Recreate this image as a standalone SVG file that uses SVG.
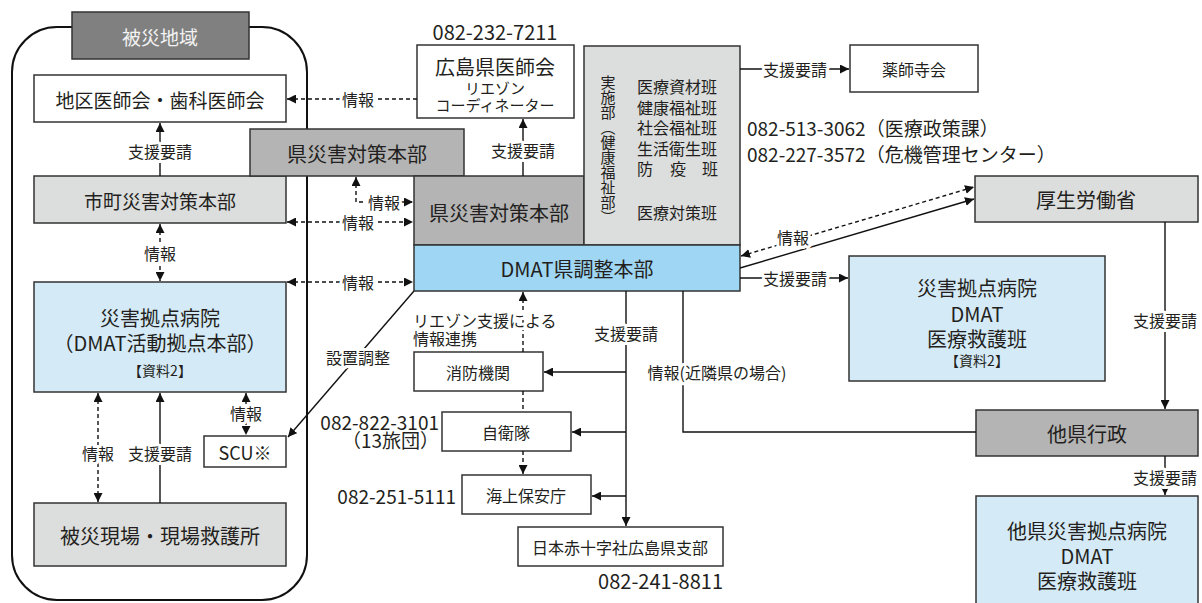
<svg xmlns="http://www.w3.org/2000/svg" width="1202" height="603" viewBox="0 0 1202 603">
<style>
text{font-family:"Noto Sans CJK JP","Noto Sans",sans-serif;fill:#231f20;text-anchor:middle;dominant-baseline:central}
.box{stroke:#333;stroke-width:1.5}
.white{fill:#fff}.lg{fill:#dcdddd}.mg{fill:#b4b4b4}.dg{fill:#808080}.lb{fill:#d5eaf7}.sb{fill:#9fd6f3}
.f20{font-size:20px}.f19{font-size:19px}.f18{font-size:18px}.f16{font-size:16px}.f15{font-size:15px}.f14{font-size:14px}
.ln{stroke:#111;stroke-width:1.4;fill:none}
.ds{stroke:#111;stroke-width:1.4;fill:none;stroke-dasharray:4 3}
.lbl{font-size:16px;stroke:#fff;stroke-width:6;paint-order:stroke;stroke-linejoin:round}
.st{text-anchor:start}.en{text-anchor:end}
.vt{writing-mode:vertical-rl;text-anchor:start;font-size:15px}
</style>
<defs>
<marker id="ah" viewBox="0 0 10 10" refX="10" refY="5" markerWidth="9" markerHeight="9" markerUnits="userSpaceOnUse" orient="auto-start-reverse"><path d="M0,0 L10,5 L0,10 z" fill="#111"/></marker>
</defs>
<rect width="1202" height="603" fill="#fff"/>
<g id="area">
<rect x="12" y="27" width="295" height="573" rx="45" ry="45" fill="none" stroke="#111" stroke-width="2"/>
<rect class="box dg" x="72" y="12" width="177" height="47"/>
<text x="160" y="36" class="f19" style="fill:#f2f2f2">被災地域</text>
</g>
<g id="chiku"><rect class="box white" x="34" y="75" width="252" height="47"/><text x="160" y="99" class="f19">地区医師会・歯科医師会</text></g>
<g id="shicho"><rect class="box lg" x="34" y="176" width="252" height="47"/><text x="160" y="200" class="f19">市町災害対策本部</text></g>
<g id="kyoten-l"><rect class="box lb" x="34" y="282" width="252" height="110"/>
<text x="160" y="317" class="f20">災害拠点病院</text><text x="160" y="342" class="f20">（DMAT活動拠点本部）</text><text x="160" y="370" class="f14">【資料2】</text></g>
<g id="scu"><rect class="box white" x="204" y="436" width="82" height="31"/><text x="245" y="452" class="f18">SCU※</text></g>
<g id="hisai"><rect class="box lg" x="34" y="503" width="252" height="63"/><text x="160" y="535" class="f20">被災現場・現場救護所</text></g>
<g id="ken-upper"><rect class="box mg" x="250" y="129" width="214" height="47"/><text x="357" y="153" class="f20">県災害対策本部</text></g>
<g id="ken-lower"><rect class="box mg" x="414" y="176" width="170" height="69"/><text x="499" y="212" class="f20">県災害対策本部</text></g>
<g id="jisshi"><rect class="box lg" x="584" y="46" width="156" height="199"/>
<text x="608" y="75" class="vt">実施部（健康福祉部）</text>
<text x="637" y="86" class="f16 st">医療資材班</text><text x="637" y="107" class="f16 st">健康福祉班</text><text x="637" y="127" class="f16 st">社会福祉班</text><text x="637" y="148" class="f16 st">生活衛生班</text>
<text x="637" y="168" class="f16 st">防</text><text x="670" y="168" class="f16 st">疫</text><text x="702" y="168" class="f16 st">班</text>
<text x="637" y="212" class="f16 st">医療対策班</text></g>
<g id="dmat"><rect class="box sb" x="414" y="245" width="326" height="46"/><text x="577" y="268" class="f20">DMAT県調整本部</text></g>
<g id="ishikai"><rect class="box white" x="417" y="45" width="157" height="73"/>
<text x="495" y="66" class="f20">広島県医師会</text><text x="495" y="87" class="f15">リエゾン</text><text x="495" y="104" class="f15">コーディネーター</text>
<text x="495" y="31" class="f20">082-232-7211</text></g>
<g id="yakushi"><rect class="box white" x="850" y="45" width="128" height="47"/><text x="914" y="69" class="f16">薬師寺会</text></g>
<g id="phones-ken"><text x="747" y="127" class="f19 st">082-513-3062（医療政策課）</text><text x="747" y="153" class="f19 st">082-227-3572（危機管理センター）</text></g>
<g id="kosei"><rect class="box lg" x="975" y="176" width="223" height="46"/><text x="1086" y="199" class="f20">厚生労働省</text></g>
<g id="kyoten-r"><rect class="box lb" x="849" y="256" width="256" height="125"/>
<text x="977" y="287" class="f20">災害拠点病院</text><text x="977" y="313" class="f20">DMAT</text><text x="977" y="338" class="f20">医療救護班</text><text x="977" y="360" class="f14">【資料2】</text></g>
<g id="taken"><rect class="box mg" x="976" y="410" width="222" height="46"/><text x="1087" y="433" class="f20">他県行政</text></g>
<g id="taken-kyoten"><rect class="box lb" x="976" y="496" width="222" height="120"/>
<text x="1087" y="530" class="f20">他県災害拠点病院</text><text x="1087" y="555" class="f20">DMAT</text><text x="1087" y="580" class="f20">医療救護班</text></g>
<g id="shobo"><rect class="box white" x="414" y="352" width="129" height="39"/><text x="478" y="372" class="f16">消防機関</text></g>
<g id="jieitai"><rect class="box white" x="442" y="412" width="129" height="39"/><text x="506" y="432" class="f16">自衛隊</text>
<text x="439" y="421" class="f19 en">082-822-3101</text><text x="439" y="439" class="f19 en">（13旅団）</text></g>
<g id="kaiho"><rect class="box white" x="462" y="475" width="129" height="39"/><text x="526" y="495" class="f16">海上保安庁</text>
<text x="456" y="495" class="f19 en">082-251-5111</text></g>
<g id="sekijuji"><rect class="box white" x="518" y="527" width="205" height="39"/><text x="620" y="547" class="f16">日本赤十字社広島県支部</text>
<text x="723" y="580" class="f20 en">082-241-8811</text></g>
<g id="connectors">
<line class="ln" x1="160" y1="176" x2="160" y2="123" marker-end="url(#ah)"/>
<line class="ds" x1="160" y1="224" x2="160" y2="281" marker-start="url(#ah)" marker-end="url(#ah)"/>
<line class="ds" x1="98" y1="393" x2="98" y2="502" marker-start="url(#ah)" marker-end="url(#ah)"/>
<line class="ln" x1="160" y1="503" x2="160" y2="393" marker-end="url(#ah)"/>
<line class="ds" x1="246" y1="393" x2="246" y2="435" marker-start="url(#ah)" marker-end="url(#ah)"/>
<line class="ds" x1="417" y1="99" x2="287" y2="99" marker-end="url(#ah)"/>
<line class="ln" x1="523" y1="176" x2="523" y2="119" marker-end="url(#ah)"/>
<path class="ds" d="M356,177 L356,202 L413,202" marker-start="url(#ah)" marker-end="url(#ah)"/>
<line class="ds" x1="287" y1="222" x2="413" y2="222" marker-start="url(#ah)" marker-end="url(#ah)"/>
<line class="ds" x1="287" y1="282" x2="413" y2="282" marker-start="url(#ah)" marker-end="url(#ah)"/>
<line class="ln" x1="414" y1="291" x2="288" y2="437" marker-end="url(#ah)"/>
<line class="ln" x1="740" y1="69" x2="849" y2="69" marker-end="url(#ah)"/>
<line class="ds" x1="741" y1="256" x2="974" y2="187" marker-start="url(#ah)" marker-end="url(#ah)"/>
<line class="ln" x1="740" y1="268" x2="974" y2="199" marker-end="url(#ah)"/>
<line class="ln" x1="740" y1="278" x2="848" y2="278" marker-end="url(#ah)"/>
<line class="ln" x1="1165" y1="222" x2="1165" y2="409" marker-end="url(#ah)"/>
<line class="ln" x1="1165" y1="456" x2="1165" y2="495" marker-end="url(#ah)"/>
<path class="ln" d="M976,432 L683,432 L683,291"/>
<line class="ln" x1="626" y1="291" x2="626" y2="526" marker-end="url(#ah)"/>
<line class="ln" x1="626" y1="372" x2="544" y2="372" marker-end="url(#ah)"/>
<line class="ln" x1="626" y1="432" x2="572" y2="432" marker-end="url(#ah)"/>
<line class="ln" x1="626" y1="496" x2="592" y2="496" marker-end="url(#ah)"/>
<line class="ds" x1="523" y1="352" x2="523" y2="292" marker-end="url(#ah)"/>
<line class="ds" x1="523" y1="391" x2="523" y2="412"/>
<line class="ds" x1="523" y1="451" x2="523" y2="474" marker-end="url(#ah)"/>
<text x="160" y="151" class="lbl">支援要請</text>
<text x="160" y="253" class="lbl">情報</text>
<text x="98" y="453" class="lbl">情報</text>
<text x="160" y="453" class="lbl">支援要請</text>
<text x="246" y="413" class="lbl">情報</text>
<text x="358" y="99" class="lbl">情報</text>
<text x="523" y="150" class="lbl">支援要請</text>
<text x="384" y="202" class="lbl">情報</text>
<text x="358" y="222" class="lbl">情報</text>
<text x="358" y="282" class="lbl">情報</text>
<text x="358" y="357" class="lbl">設置調整</text>
<text x="795" y="69" class="lbl">支援要請</text>
<text x="793" y="237" class="lbl">情報</text>
<text x="795" y="278" class="lbl">支援要請</text>
<text x="1165" y="320" class="lbl">支援要請</text>
<text x="1165" y="477" class="lbl">支援要請</text>
<text x="717" y="372" class="lbl">情報(近隣県の場合)</text>
<text x="626" y="333" class="lbl">支援要請</text>
<text x="413" y="320" class="lbl st">リエゾン支援による</text>
<text x="413" y="338" class="lbl st">情報連携</text>
</g>
</svg>
